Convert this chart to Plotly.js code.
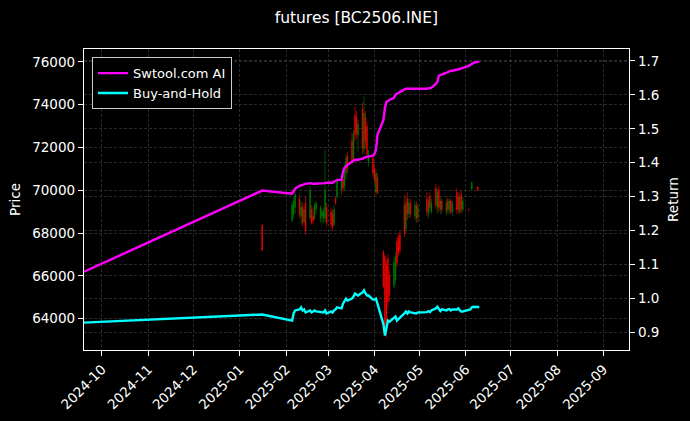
<!DOCTYPE html>
<html>
<head>
<meta charset="utf-8">
<script src="https://cdn.plot.ly/plotly-3.0.1.min.js"></script>
<style>html,body{margin:0;padding:0;background:#000;}#chart{width:690px;height:421px;}</style>
</head>
<body>
<div id="chart"></div>
<script>
// ---- Candles (price, left axis) ----
const candleDates = ['2025-01-16',
 '2025-02-05','2025-02-06','2025-02-07','2025-02-10','2025-02-11','2025-02-12','2025-02-13','2025-02-14','2025-02-17','2025-02-18','2025-02-19','2025-02-20','2025-02-21','2025-02-24','2025-02-25','2025-02-26','2025-02-27','2025-02-28',
 '2025-03-03','2025-03-04','2025-03-05','2025-03-06','2025-03-07','2025-03-10','2025-03-11','2025-03-12','2025-03-13','2025-03-14','2025-03-17','2025-03-18','2025-03-19','2025-03-20','2025-03-21','2025-03-24','2025-03-25','2025-03-26','2025-03-27','2025-03-28','2025-03-31',
 '2025-04-01','2025-04-02','2025-04-03','2025-04-07','2025-04-08','2025-04-09','2025-04-10','2025-04-11','2025-04-14','2025-04-15','2025-04-16','2025-04-17','2025-04-18','2025-04-21','2025-04-22','2025-04-23','2025-04-24','2025-04-25','2025-04-28','2025-04-29','2025-04-30',
 '2025-05-06','2025-05-07','2025-05-08','2025-05-09','2025-05-12','2025-05-13','2025-05-14','2025-05-15','2025-05-16','2025-05-19','2025-05-20','2025-05-21','2025-05-22','2025-05-23','2025-05-26','2025-05-27','2025-05-28','2025-05-29','2025-05-30',
 '2025-06-03','2025-06-05','2025-06-09'];
const openP = [68370,
 68600,68900,69200,69600,68800,69200,68500,69400,68700,69100,68800,68700,69100,68700,68800,68700,68700,69200,
 69000,68900,68400,69600,69700,70000,70500,70200,70800,71600,72300,71500,73500,73400,72600,73800,71900,73400,73000,71300,71500,
 71000,69900,70600,67100,66900,66500,66800,66000,65500,65800,67600,67800,67900,69300,68200,69600,68900,69400,68800,69300,68700,
 69600,68900,69700,69000,70100,69200,70000,69100,69500,69000,69500,69100,69500,69000,69900,69700,69000,69800,69100,
 69100,70050,70150];
const highP = [68400,
 69400,69700,70000,69800,69500,69400,69300,69700,70200,69300,69200,69400,69500,69300,69100,69200,71900,69400,
 69200,69100,69300,69700,70600,70700,70800,71200,71700,71800,72700,72800,73900,73700,73300,74100,74400,73700,73200,71900,71600,
 71200,71000,70800,67200,67000,66700,67000,66300,66800,67100,67800,68000,68100,69800,69700,69900,69600,69600,69500,69500,69400,
 69900,69700,69900,69600,70300,70100,70200,69700,69600,69600,69700,69600,69600,69500,70100,69900,69900,70000,69700,
 69150,70400,70200];
const lowP = [67180,
 68500,68700,68900,68700,68400,68300,68400,67900,68600,68400,68400,68600,68900,68500,68400,68500,68500,68300,
 68200,68100,68300,69300,69600,69800,69900,70000,70500,70800,71200,71300,72300,72400,71800,71700,71700,72000,71500,71100,70600,
 70300,69800,69800,65400,63200,63100,64500,64800,65400,65600,66400,66900,67000,67800,68000,68600,68700,68700,68600,68500,68500,
 68800,68700,69000,68900,69100,68900,69000,68900,68900,68800,68900,68900,68900,68800,68900,68900,68900,68900,69000,
 69050,70000,69950];
const closeP = [67200,
 69300,69500,69800,68900,69200,68500,69100,68100,70000,68500,68600,69300,69400,69200,69000,69000,70000,68500,
 68400,68300,69100,69400,70400,70500,70100,71000,71500,71000,71400,72600,72600,72700,73100,72000,73600,72300,71700,71700,70800,
 70500,70800,69900,65500,63400,63700,64800,65100,66600,66900,66600,67100,67200,68000,69400,68900,69400,68900,69300,68700,69200,
 69000,69500,69200,69400,69300,69900,69200,69500,69100,69400,69100,69500,69000,69400,69100,69100,69700,69100,69500,
 69080,70350,70000];

// ---- Return lines (right axis) ----
const lineDates = ['2024-09-19','2025-01-16',
 '2025-02-05','2025-02-06','2025-02-07','2025-02-10','2025-02-11','2025-02-12','2025-02-13','2025-02-14','2025-02-17','2025-02-18','2025-02-19','2025-02-20','2025-02-21','2025-02-24','2025-02-25','2025-02-26','2025-02-27','2025-02-28',
 '2025-03-03','2025-03-04','2025-03-05','2025-03-06','2025-03-07','2025-03-10','2025-03-11','2025-03-12','2025-03-13','2025-03-14','2025-03-17','2025-03-18','2025-03-19','2025-03-20','2025-03-21','2025-03-24','2025-03-25','2025-03-26','2025-03-27','2025-03-28','2025-03-31',
 '2025-04-01','2025-04-02','2025-04-03','2025-04-07','2025-04-08','2025-04-09','2025-04-10','2025-04-11','2025-04-14','2025-04-15','2025-04-16','2025-04-17','2025-04-18','2025-04-21','2025-04-22','2025-04-23','2025-04-24','2025-04-25','2025-04-28','2025-04-29','2025-04-30',
 '2025-05-06','2025-05-07','2025-05-08','2025-05-09','2025-05-12','2025-05-13','2025-05-14','2025-05-15','2025-05-16','2025-05-19','2025-05-20','2025-05-21','2025-05-22','2025-05-23','2025-05-26','2025-05-27','2025-05-28','2025-05-29','2025-05-30',
 '2025-06-03','2025-06-04','2025-06-05','2025-06-06','2025-06-09','2025-06-10'];
const aiReturn = [1.079,1.318,
 1.309,1.315,1.324,1.332,1.334,1.335,1.337,1.338,1.340,1.338,1.338,1.338,1.338,1.338,1.338,1.340,1.340,1.341,
 1.341,1.341,1.344,1.346,1.349,1.350,1.374,1.385,1.391,1.394,1.403,1.406,1.409,1.409,1.409,1.412,1.415,1.416,1.418,1.418,1.421,
 1.426,1.438,1.482,1.526,1.562,1.579,1.582,1.585,1.591,1.600,1.603,1.606,1.609,1.616,1.618,1.618,1.618,1.618,1.618,1.618,1.616,
 1.618,1.619,1.621,1.621,1.632,1.638,1.656,1.659,1.660,1.665,1.668,1.669,1.671,1.671,1.674,1.674,1.676,1.678,1.679,
 1.685,1.688,1.691,1.694,1.697,1.697];
const bhReturn = [0.929,0.953,
 0.935,0.956,0.965,0.968,0.974,0.965,0.968,0.959,0.965,0.959,0.962,0.965,0.962,0.959,0.960,0.959,0.965,0.956,
 0.962,0.959,0.965,0.968,0.974,0.971,0.985,0.994,1.000,0.994,1.000,1.006,1.015,1.012,1.009,1.018,1.024,1.015,1.009,1.009,0.997,
 0.997,1.000,0.985,0.924,0.891,0.915,0.935,0.932,0.944,0.947,0.935,0.941,0.944,0.956,0.962,0.956,0.962,0.959,0.957,0.956,0.959,
 0.960,0.963,0.960,0.965,0.971,0.976,0.968,0.963,0.968,0.965,0.968,0.969,0.965,0.968,0.968,0.971,0.965,0.962,0.962,
 0.965,0.968,0.974,0.976,0.975,0.975];

const monthTicks = ['2024-10-01','2024-11-01','2024-12-01','2025-01-01','2025-02-01','2025-03-01','2025-04-01','2025-05-01','2025-06-01','2025-07-01','2025-08-01','2025-09-01'];
const monthLabels = ['2024-10','2024-11','2024-12','2025-01','2025-02','2025-03','2025-04','2025-05','2025-06','2025-07','2025-08','2025-09'];
const priceTicks = [64000,66000,68000,70000,72000,74000,76000];
const priceLabels = ['64000','66000','68000','70000','72000','74000','76000'];
const returnTicks = [0.9,1.0,1.1,1.2,1.3,1.4,1.5,1.6,1.7];
const returnLabels = ['0.9','1.0','1.1','1.2','1.3','1.4','1.5','1.6','1.7'];

const FONT = 'DejaVu Sans, sans-serif';
const gridStyle = {showgrid:true, gridcolor:'#444444', gridwidth:0.6, griddash:'3px,2px'};

const traces = [
 {type:'candlestick', x:candleDates, open:openP, high:highP, low:lowP, close:closeP,
  xaxis:'x', yaxis:'y', showlegend:false, whiskerwidth:0,
  increasing:{line:{color:'#008000', width:0.6}, fillcolor:'#008000'},
  decreasing:{line:{color:'#ff0000', width:0.6}, fillcolor:'#ff0000'}},
 {type:'scatter', mode:'lines', x:lineDates, y:aiReturn, name:'Swtool.com AI', yaxis:'y2',
  line:{color:'#ff00ff', width:2.4}},
 {type:'scatter', mode:'lines', x:lineDates, y:bhReturn, name:'Buy-and-Hold', yaxis:'y2',
  line:{color:'#00ffff', width:2.4}}
];

const layout = {
 width:690, height:421,
 paper_bgcolor:'#000', plot_bgcolor:'#000',
 font:{family:FONT, color:'#ffffff', size:13},
 margin:{l:84, r:61, t:49, b:71},
 title:{text:'futures [BC2506.INE]', font:{family:FONT, size:15.5, color:'#fff'}, x:0.5165, xanchor:'center', y:0.958, yanchor:'middle', yref:'container'},
 xaxis:Object.assign({type:'date', range:['2024-09-19','2025-09-18'], tickmode:'array', tickvals:monthTicks, ticktext:monthLabels,
  tickangle:-45, ticks:'outside', ticklen:5, tickcolor:'#fff', showline:true, linecolor:'#fff', linewidth:1.2, mirror:true,
  rangeslider:{visible:false}, zeroline:false, tickfont:{size:13.5}}, gridStyle),
 yaxis:Object.assign({range:[62528,76607], tickmode:'array', tickvals:priceTicks, ticktext:priceLabels, ticks:'outside', ticklen:5, tickcolor:'#fff',
  showline:true, linecolor:'#fff', linewidth:1.2, zeroline:false, tickfont:{size:13.5},
  title:{text:'Price', font:{size:13.5}, standoff:8}}, gridStyle),
 yaxis2:Object.assign({overlaying:'y', side:'right', range:[0.8485,1.735], tickmode:'array', tickvals:returnTicks, ticktext:returnLabels,
  ticks:'outside', ticklen:5, tickcolor:'#fff', showline:true, linecolor:'#fff', linewidth:1.2, zeroline:false, tickfont:{size:13.5},
  title:{text:'Return', font:{size:13.5}, standoff:10}}, gridStyle),
 legend:{x:0.0147, y:0.973, xanchor:'left', yanchor:'top', bgcolor:'#000', bordercolor:'#cccccc', borderwidth:1,
  font:{size:13, color:'#fff'}, itemwidth:30, tracegroupgap:0},
 hovermode:false
};

Plotly.newPlot('chart', traces, layout, {staticPlot:true, displayModeBar:false});
</script>
</body>
</html>
